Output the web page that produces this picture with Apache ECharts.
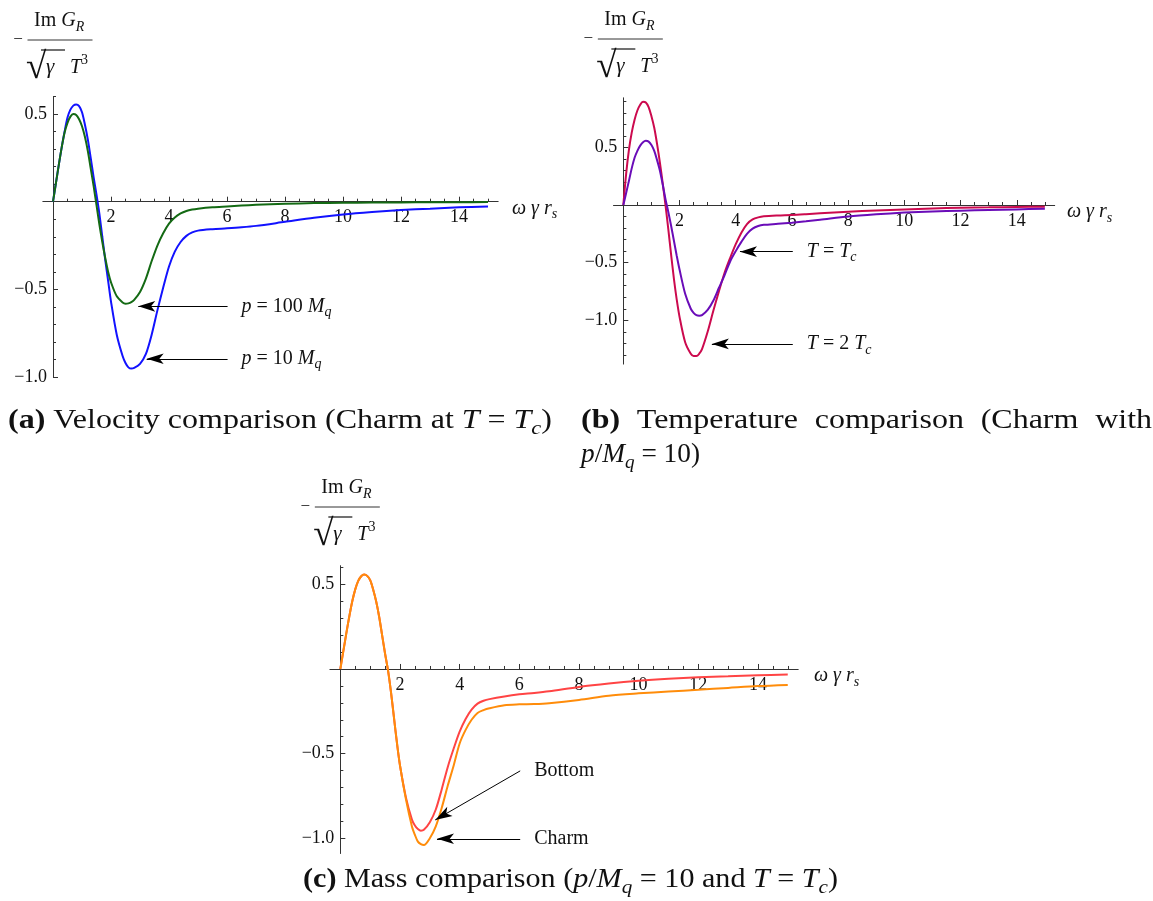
<!DOCTYPE html>
<html><head><meta charset="utf-8">
<script src="https://cdn.jsdelivr.net/npm/echarts@6/dist/echarts.min.js"></script>
<style>html,body{margin:0;padding:0;background:#fff}#c{width:1153px;height:901px}</style>
</head><body><div id="c"></div>
<script>
// ---------------- data ----------------
const omega = [0,0.1,0.2,0.3,0.4,0.5,0.6,0.7,0.8,0.9,1.0,1.1,1.2,1.3,1.4,1.5,1.6,1.7,1.8,1.9,2.0,
  2.2,2.4,2.5,2.6,2.7,2.8,3.0,3.2,3.4,3.6,3.8,4.0,4.2,4.4,4.6,4.8,5.0,5.5,6,6.5,7,8,9,10,11,12,13,14,15];

// (a) velocity comparison
const velP10 = [0,0.105,0.21,0.31,0.40,0.48,0.525,0.548,0.555,0.545,0.51,0.44,0.355,0.25,0.14,0.04,-0.07,-0.20,-0.33,-0.45,-0.57,
  -0.76,-0.88,-0.92,-0.945,-0.952,-0.948,-0.925,-0.87,-0.76,-0.62,-0.49,-0.37,-0.285,-0.23,-0.195,-0.175,-0.165,-0.157,-0.152,-0.146,-0.138,-0.115,-0.092,-0.073,-0.059,-0.048,-0.040,-0.032,-0.027];
const velP100 = [0,0.105,0.21,0.31,0.395,0.45,0.485,0.50,0.495,0.47,0.43,0.37,0.29,0.19,0.09,-0.02,-0.13,-0.23,-0.32,-0.40,-0.46,
  -0.54,-0.575,-0.582,-0.58,-0.573,-0.56,-0.515,-0.44,-0.34,-0.25,-0.18,-0.125,-0.09,-0.067,-0.053,-0.045,-0.040,-0.032,-0.027,-0.022,-0.018,-0.012,-0.008,-0.006,-0.005,-0.004,-0.003,-0.003,-0.002];

// (b) temperature comparison
const tempTc = [0,0.105,0.21,0.32,0.41,0.47,0.515,0.545,0.557,0.55,0.52,0.47,0.39,0.30,0.18,0.05,-0.06,-0.18,-0.31,-0.44,-0.56,
  -0.77,-0.90,-0.935,-0.955,-0.96,-0.955,-0.91,-0.83,-0.72,-0.61,-0.49,-0.40,-0.32,-0.25,-0.205,-0.182,-0.172,-0.163,-0.153,-0.141,-0.128,-0.100,-0.081,-0.066,-0.056,-0.049,-0.043,-0.038,-0.032];
const temp2Tc = [0,0.27,0.48,0.63,0.74,0.82,0.87,0.895,0.89,0.85,0.77,0.67,0.53,0.37,0.19,0.0,-0.21,-0.43,-0.64,-0.82,-0.97,
  -1.19,-1.29,-1.31,-1.31,-1.29,-1.25,-1.10,-0.92,-0.75,-0.59,-0.46,-0.34,-0.24,-0.165,-0.125,-0.107,-0.098,-0.091,-0.087,-0.080,-0.072,-0.058,-0.047,-0.038,-0.030,-0.023,-0.020,-0.017,-0.014];

// (c) mass comparison
const massBottom = [0,0.105,0.21,0.31,0.40,0.47,0.52,0.548,0.558,0.55,0.525,0.47,0.40,0.31,0.20,0.09,-0.01,-0.14,-0.29,-0.44,-0.57,
  -0.76,-0.89,-0.925,-0.945,-0.955,-0.95,-0.905,-0.83,-0.71,-0.58,-0.47,-0.37,-0.295,-0.24,-0.205,-0.188,-0.178,-0.162,-0.150,-0.142,-0.132,-0.106,-0.086,-0.070,-0.058,-0.049,-0.043,-0.037,-0.033];
const massCharm = [0,0.105,0.21,0.31,0.40,0.47,0.52,0.548,0.558,0.55,0.525,0.47,0.40,0.31,0.20,0.09,-0.01,-0.14,-0.29,-0.44,-0.57,
  -0.77,-0.93,-0.98,-1.02,-1.035,-1.04,-1.00,-0.93,-0.82,-0.69,-0.57,-0.44,-0.36,-0.30,-0.26,-0.243,-0.232,-0.214,-0.209,-0.207,-0.202,-0.183,-0.158,-0.144,-0.133,-0.123,-0.112,-0.101,-0.094];

// ticks
const xRange = [-0.35, 15.35];
const xMajorTicks = [2,4,6,8,10,12,14];
const xMinorTicks = [0.5,1,1.5,2,2.5,3,3.5,4,4.5,5,5.5,6,6.5,7,7.5,8,8.5,9,9.5,10,10.5,11,11.5,12,12.5,13,13.5,14,14.5,15];
const yMajorTicks = [-1,-0.5,0.5];
const yMinorA = [-1,-0.9,-0.8,-0.7,-0.6,-0.5,-0.4,-0.3,-0.2,-0.1,0.1,0.2,0.3,0.4,0.5,0.6];
const yMinorB = [-1.3,-1.2,-1.1,-1,-0.9,-0.8,-0.7,-0.6,-0.5,-0.4,-0.3,-0.2,-0.1,0.1,0.2,0.3,0.4,0.5,0.6,0.7,0.8,0.9];
const yMinorC = [-1,-0.9,-0.8,-0.7,-0.6,-0.5,-0.4,-0.3,-0.2,-0.1,0.1,0.2,0.3,0.4,0.5,0.6];
const yRangeA = [-1.0, 0.6], yRangeB = [-1.38, 0.93], yRangeC = [-1.09, 0.61];

// annotation arrows: tail -> head (data coordinates)
const arrowsA = [{tail:[6.02,-0.597], head:[2.94,-0.597], label:[{t:'p',it:1},{t:' = 100 '},{t:'M',it:1},{t:'q',it:1,sub:1}]},
                 {tail:[6.02,-0.896], head:[3.23,-0.896], label:[{t:'p',it:1},{t:' = 10 '},{t:'M',it:1},{t:'q',it:1,sub:1}]}];
const arrowsB = [{tail:[6.03,-0.405], head:[4.15,-0.405], label:[{t:'T',it:1},{t:' = '},{t:'T',it:1},{t:'c',it:1,sub:1}]},
                 {tail:[6.03,-1.205], head:[3.15,-1.205], label:[{t:'T',it:1},{t:' = 2 '},{t:'T',it:1},{t:'c',it:1,sub:1}]}];
const arrowsC = [{tail:[6.03,-0.602], head:[3.18,-0.892], label:[{t:'Bottom'}]},
                 {tail:[6.03,-1.003], head:[3.24,-1.003], label:[{t:'Charm'}]}];

// ---------------- layout ----------------
const FF = '"Liberation Serif"';
const AX = '#333';
const plots = [
  {box:[42.85, 96.5, 455.3, 280.5], yr:yRangeA, yMinor:yMinorA, arrows:arrowsA, nameX:512, barY:40,
   series:[{d:velP10, c:'#1212ff'}, {d:velP100, c:'#146a14'}]},
  {box:[613.5, 97.8, 441.2, 266.3], yr:yRangeB, yMinor:yMinorB, arrows:arrowsB, nameX:1067, barY:39,
   series:[{d:temp2Tc, c:'#cc0a4e'}, {d:tempTc, c:'#6a0cb8'}]},
  {box:[329.9, 565.7, 468.3, 287.8], yr:yRangeC, yMinor:yMinorC, arrows:arrowsC, nameX:814, barY:507,
   series:[{d:massBottom, c:'#ff4444'}, {d:massCharm, c:'#ff8c0a'}]}
];

const option = {animation:false, backgroundColor:'#fff', grid:[], xAxis:[], yAxis:[], series:[]};
const yFmt = v => (v < 0 ? '\u2212' : '') + Math.abs(v).toFixed(1);

plots.forEach((p, g) => {
  const [L, T, W, H] = p.box;
  const zeroY = T + (p.yr[1] - 0) / (p.yr[1] - p.yr[0]) * H;
  const zeroX = L + (0 - xRange[0]) / (xRange[1] - xRange[0]) * W;
  option.grid.push({left:L, top:T, width:W, height:H, containLabel:false, outerBoundsMode:'none'});
  option.xAxis.push({type:'value', gridIndex:g, position:'bottom', min:xRange[0], max:xRange[1], offset:-(T + H - zeroY),
    axisLine:{show:true, onZero:false, lineStyle:{color:AX, width:1}},
    axisTick:{show:true, inside:true, length:5, customValues:xMajorTicks, lineStyle:{color:AX, width:1}},
    axisLabel:{show:true, customValues:xMajorTicks, margin:7, color:'#111', fontFamily:'Liberation Serif', fontSize:18, formatter:v => String(v)},
    splitLine:{show:false}});
  option.xAxis.push({type:'value', gridIndex:g, position:'top', min:xRange[0], max:xRange[1], offset:-(zeroY - T),
    axisLine:{show:false, onZero:false},
    axisTick:{show:true, inside:false, length:3, customValues:xMinorTicks, lineStyle:{color:AX, width:1}},
    axisLabel:{show:false}, splitLine:{show:false}});
  option.yAxis.push({type:'value', gridIndex:g, position:'left', min:p.yr[0], max:p.yr[1], offset:-(zeroX - L),
    axisLine:{show:true, onZero:false, lineStyle:{color:AX, width:1}},
    axisTick:{show:true, inside:true, length:5, customValues:yMajorTicks, lineStyle:{color:AX, width:1}},
    axisLabel:{show:true, customValues:yMajorTicks, margin:6, color:'#111', fontFamily:'Liberation Serif', fontSize:18, formatter:yFmt},
    splitLine:{show:false}});
  option.yAxis.push({type:'value', gridIndex:g, position:'right', min:p.yr[0], max:p.yr[1], offset:-(L + W - zeroX),
    axisLine:{show:false, onZero:false},
    axisTick:{show:true, inside:false, length:3, customValues:p.yMinor, lineStyle:{color:AX, width:1}},
    axisLabel:{show:false}, splitLine:{show:false}});
  p.series.forEach((s, k) => {
    const ser = {type:'line', xAxisIndex:2*g, yAxisIndex:2*g, data:omega.map((x, i) => [x, s.d[i]]),
      showSymbol:false, symbol:'none', smooth:0.3, silent:true, clip:true,
      lineStyle:{width:2, color:s.c}, itemStyle:{color:s.c}, z:2 + k};
    if (k === 0) {
      ser.markLine = {silent:true, animation:false, label:{show:false},
        lineStyle:{color:'#000', width:1, type:'solid'}, itemStyle:{color:'#000'},
        emphasis:{disabled:true},
        data:p.arrows.map(a => [{coord:a.tail, symbol:'none'},
          {coord:a.head, symbol:'arrow', symbolSize:[8,17]}])};
    }
    option.series.push(ser);
  });
});

const chart = echarts.init(document.getElementById('c'), null, {renderer:'canvas'});
chart.setOption(option);

// ---------------- text elements ----------------
const mctx = document.createElement('canvas').getContext('2d');
function fontStr(size, it, b) { return (it ? 'italic ' : '') + (b ? 'bold ' : '') + size + 'px ' + FF; }
function mw(t, font) { mctx.font = font; return mctx.measureText(t).width; }
function segWidth(segs, size, scale) {
  let w = 0;
  segs.forEach(s => { const fs = (s.sub || s.sup) ? Math.round(size * 0.7) : size; w += mw(s.t, fontStr(fs, s.it, s.b)) * scale; });
  return w;
}
function segEls(segs, x, y, size, scale, out, color) {
  let cx = x;
  segs.forEach(s => {
    const fs = (s.sub || s.sup) ? Math.round(size * 0.7) : size;
    const font = fontStr(fs, s.it, s.b);
    const dy = s.sub ? size * 0.3 : (s.sup ? -size * 0.36 : 0);
    out.push({type:'text', x:cx, y:y + dy, scaleX:scale, silent:true, z:100,
      style:{text:s.t, font:font, fill:color || '#000', textAlign:'left', textVerticalAlign:'middle', align:'left', verticalAlign:'middle'}});
    cx += mw(s.t, font) * scale;
  });
  return cx - x;
}

const els = [];
plots.forEach((p, g) => {
  const conv = v => chart.convertToPixel({xAxisIndex:2*g, yAxisIndex:2*g}, v);
  const z = conv([0, 0]);
  // axis name
  segEls([{t:'\u03c9 \u03b3 ', it:1}, {t:'r', it:1}, {t:'s', it:1, sub:1}], p.nameX, z[1] + 7, 20, 1, els, '#111');
  // y title fraction
  const x0 = z[0], by = p.barY;
  els.push({type:'text', x:x0 - 35, y:by, silent:true, style:{text:'\u2212', font:'17px ' + FF, fill:'#222', textAlign:'center', textVerticalAlign:'middle', align:'center', verticalAlign:'middle'}});
  segEls([{t:'Im '}, {t:'G', it:1}, {t:'R', it:1, sub:1}], x0 - 19, by - 19, 20, 1, els, '#111');
  els.push({type:'line', silent:true, shape:{x1:x0 - 25.5, y1:by, x2:x0 + 39.5, y2:by}, style:{stroke:'#333', lineWidth:1}});
  els.push({type:'text', x:x0 - 27, y:by + 47, silent:true, style:{text:'\u221a', font:'37px ' + FF, fill:'#111', textAlign:'left', textVerticalAlign:'bottom', align:'left', verticalAlign:'bottom'}});
  els.push({type:'line', silent:true, shape:{x1:x0 - 12, y1:by + 10, x2:x0 + 12, y2:by + 10}, style:{stroke:'#111', lineWidth:1.2}});
  segEls([{t:'\u03b3', it:1}], x0 - 7, by + 27, 21, 1, els, '#111');
  segEls([{t:'T', it:1}, {t:'3', sup:1}], x0 + 17, by + 28, 20, 1, els, '#111');
  // annotation labels
  p.arrows.forEach(a => {
    const t = conv(a.tail);
    segEls(a.label, t[0] + 14, t[1], 20, 1, els, '#111');
  });
});

// captions (each fitted to the width it takes in the figure)
const CS = 27;
function fitScale(segs, width) { return width / segWidth(segs, CS, 1); }
const capA = [{t:'(a)', b:1}, {t:' Velocity comparison (Charm at '}, {t:'T', it:1}, {t:' = '}, {t:'T', it:1}, {t:'c', it:1, sub:1}, {t:')'}];
const sA = fitScale(capA, 544);
segEls(capA, 8, 421, CS, sA, els, '#111');
const capB1 = [[{t:'(b)', b:1}], [{t:'Temperature'}], [{t:'comparison'}], [{t:'(Charm'}], [{t:'with'}]];
const wB = capB1.map(w => segWidth(w, CS, sA));
const gapB = (1152 - 581 - wB.reduce((a, b) => a + b, 0)) / (capB1.length - 1);
let bx = 581;
capB1.forEach((w, i) => { segEls(w, bx, 421, CS, sA, els, '#111'); bx += wB[i] + gapB; });
const capB2 = [{t:'p', it:1}, {t:'/'}, {t:'M', it:1}, {t:'q', it:1, sub:1}, {t:' = 10)'}];
segEls(capB2, 581, 455, CS, fitScale(capB2, 119), els, '#111');
const capC = [{t:'(c)', b:1}, {t:' Mass comparison ('}, {t:'p', it:1}, {t:'/'}, {t:'M', it:1}, {t:'q', it:1, sub:1}, {t:' = 10 and '}, {t:'T', it:1}, {t:' = '}, {t:'T', it:1}, {t:'c', it:1, sub:1}, {t:')'}];
const sC = fitScale(capC, 535);
segEls(capC, 303, 880, CS, sC, els, '#111');

chart.setOption({graphic:{elements:els}});
</script></body></html>
